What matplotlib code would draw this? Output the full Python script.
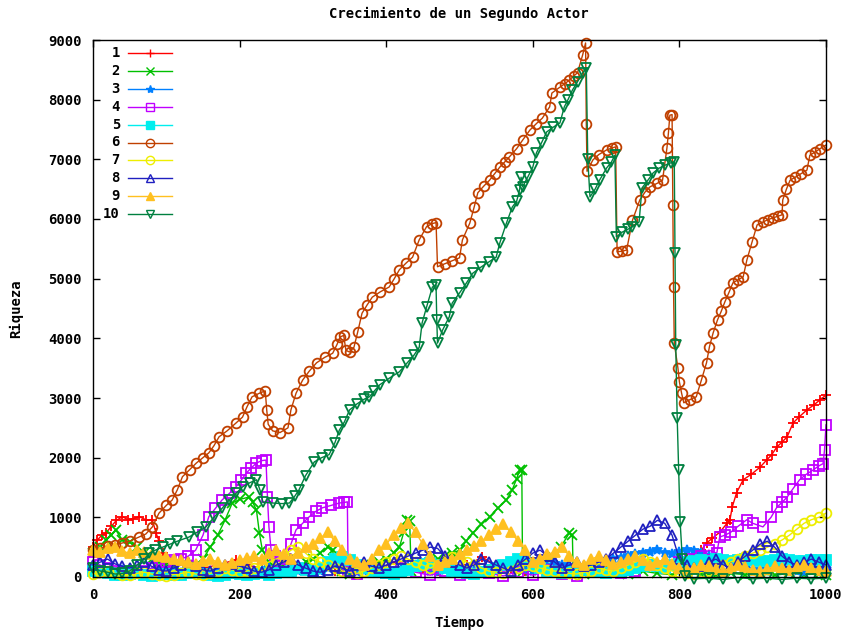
import numpy as np
import matplotlib
matplotlib.use("agg")
import matplotlib.pyplot as plt

# time grid used by the noisy low-wealth actors
t_grid = np.arange(0, 1001, 10)

# actor 1
t1 = [0, 6, 12, 18, 25, 32, 40, 48, 55, 63, 72, 81, 86, 90, 95, 100, 110, 130, 150, 170, 195,
      210, 230, 250, 270, 290, 310, 330, 350, 370, 390, 414, 430, 450, 470, 490, 510, 531, 550,
      570, 590, 610, 630, 650, 670, 690, 710, 730, 750, 770, 790, 810, 820, 830, 837, 845, 855,
      865, 869, 872, 878, 887, 898, 910, 919, 926, 933, 940, 947, 955, 963, 974, 983, 992, 1000]
v1 = [500, 620, 700, 740, 850, 950, 1010, 960, 980, 1010, 960, 950, 740, 600, 400, 300, 250, 200,
      150, 200, 290, 200, 150, 100, 150, 200, 150, 100, 150, 200, 150, 250, 200, 150, 100, 150,
      200, 330, 200, 150, 100, 150, 200, 150, 100, 150, 200, 150, 200, 250, 200, 300, 350, 450,
      570, 650, 750, 900, 960, 1170, 1410, 1630, 1720, 1840, 1960, 2050, 2180, 2260, 2350, 2580,
      2680, 2800, 2880, 2970, 3050]

# actor 2
t2 = [0, 10, 18, 25, 31, 40, 50, 60, 70, 80, 90, 100, 110, 120, 130, 140, 150, 160, 170, 180, 190,
      200, 213, 218, 223, 227, 231, 240, 250, 260, 270, 280, 290, 300, 310, 320, 327, 330, 340,
      350, 360, 370, 380, 390, 400, 410, 418, 424, 428, 432, 434, 440, 450, 460, 470, 480, 490,
      500, 509, 518, 530, 541, 552, 564, 572, 578, 582, 585, 586, 595, 605, 615, 627, 638, 650,
      654, 655, 670, 690, 710, 730, 750, 770, 790, 810, 830, 850, 870, 890, 910, 930, 950, 970,
      990, 1000]
v2 = [400, 500, 620, 700, 790, 620, 580, 500, 400, 300, 250, 200, 150, 100, 120, 200, 300, 500,
      700, 950, 1240, 1300, 1340, 1250, 1120, 740, 450, 250, 150, 200, 100, 150, 250, 300, 400,
      500, 450, 200, 100, 50, 100, 150, 200, 250, 300, 400, 500, 750, 960, 940, 100, 150, 200,
      250, 300, 350, 400, 450, 600, 740, 880, 1010, 1150, 1290, 1460, 1650, 1790, 1800, 100, 150,
      200, 250, 330, 500, 740, 700, 100, 50, 100, 80, 50, 100, 60, 40, 80, 50, 30, 60, 40, 50, 30,
      60, 40, 50, 40]

# actor 3
v3 = [150, 100, 50, 80, 120, 100, 60, 40, 80, 120, 100,
      80, 60, 120, 150, 100, 80, 120, 180, 150, 100,
      80, 50, 100, 150, 120, 80, 60, 100, 140, 120,
      100, 150, 200, 180, 120, 80, 100, 150, 120, 100,
      80, 120, 160, 200, 150, 100, 80, 120, 160, 140,
      120, 100, 80, 120, 160, 200, 180, 150, 120, 100,
      140, 180, 220, 200, 160, 120, 100, 150, 200, 250,
      300, 320, 350, 380, 400, 420, 450, 400, 380, 420,
      450, 430, 400, 350, 300, 250, 200, 180, 150, 120,
      100, 140, 180, 150, 120, 100, 80, 120, 150, 130]

# actor 4
t4 = [0, 10, 20, 30, 40, 50, 60, 70, 80, 90, 100, 110, 120, 130, 140, 150, 158, 167, 176, 186, 195,
      202, 209, 216, 223, 230, 236, 238, 240, 243, 248, 255, 262, 270, 277, 286, 295, 304, 313,
      325, 336, 343, 347, 348, 360, 380, 400, 420, 440, 460, 480, 500, 520, 540, 560, 580, 600,
      620, 640, 660, 680, 700, 720, 740, 760, 780, 800, 815, 830, 840, 851, 855, 862, 870, 880,
      892, 900, 914, 925, 933, 940, 947, 955, 964, 973, 982, 990, 996, 998, 1000]
v4 = [250, 200, 150, 100, 80, 60, 80, 100, 150, 200, 250, 280, 300, 350, 450, 700, 1010, 1150,
      1290, 1400, 1510, 1620, 1740, 1830, 1910, 1950, 1960, 1340, 840, 450, 350, 250, 300, 550,
      790, 900, 1010, 1100, 1160, 1200, 1240, 1250, 1260, 100, 50, 120, 60, 150, 80, 30, 100, 40,
      150, 60, 20, 90, 30, 120, 50, 20, 80, 150, 60, 100, 200, 150, 250, 300, 350, 450, 400, 670,
      700, 750, 850, 960, 900, 840, 1000, 1170, 1250, 1340, 1480, 1630, 1720, 1790, 1860, 1900,
      2130, 2550]

# actor 5
v5 = [100, 80, 60, 40, 30, 50, 70, 40, 20, 30, 50,
      40, 30, 60, 80, 50, 30, 20, 40, 60, 50,
      30, 50, 70, 40, 60, 80, 100, 150, 120, 80,
      150, 250, 300, 330, 280, 200, 150, 100, 80, 60,
      50, 80, 120, 180, 220, 230, 200, 150, 100, 80,
      60, 50, 80, 120, 150, 200, 250, 300, 280, 200,
      150, 100, 80, 60, 80, 100, 120, 100, 80, 60,
      80, 100, 120, 150, 180, 200, 180, 150, 200, 220,
      250, 270, 280, 260, 300, 280, 270, 290, 300, 280,
      270, 260, 280, 300, 290, 270, 260, 280, 290, 280]

# actor 6
t6 = [0, 10, 20, 30, 40, 50, 63, 72, 81, 90, 100, 108, 115, 122, 132, 141, 150, 158, 165, 172, 183,
      195, 204, 210, 217, 227, 235, 237, 239, 245, 255, 266, 270, 277, 286, 295, 305, 316, 327,
      333, 337, 342, 345, 350, 356, 361, 367, 374, 381, 392, 404, 411, 418, 427, 436, 445, 455,
      462, 468, 470, 480, 490, 500, 504, 514, 520, 525, 533, 541, 548, 555, 562, 568, 578, 586,
      596, 605, 613, 623, 626, 637, 644, 650, 656, 661, 668, 672, 673, 674, 682, 690, 701, 708,
      713, 715, 722, 728, 736, 746, 753, 760, 770, 777, 783, 785, 787, 790, 791, 792, 793, 798,
      800, 803, 806, 814, 823, 830, 837, 841, 846, 852, 857, 862, 868, 873, 880, 887, 892, 899,
      906, 914, 921, 928, 935, 940, 941, 946, 951, 958, 966, 974, 978, 985, 992, 1000]
v6 = [450, 480, 520, 540, 570, 600, 670, 720, 840, 1070, 1200, 1290, 1460, 1680, 1800, 1910, 2000,
      2080, 2200, 2350, 2450, 2580, 2680, 2850, 3020, 3080, 3120, 2800, 2560, 2450, 2420, 2500,
      2800, 3080, 3300, 3450, 3590, 3680, 3750, 3900, 4020, 4050, 3800, 3770, 3850, 4100, 4420,
      4560, 4690, 4780, 4860, 5000, 5150, 5260, 5360, 5650, 5870, 5920, 5940, 5200, 5250, 5300,
      5350, 5650, 5930, 6200, 6440, 6550, 6650, 6760, 6870, 6960, 7040, 7180, 7320, 7490, 7600,
      7690, 7880, 8110, 8210, 8270, 8330, 8400, 8450, 8750, 8950, 7600, 6800, 6990, 7080, 7160,
      7190, 7210, 5450, 5460, 5480, 5980, 6320, 6450, 6540, 6600, 6650, 7190, 7440, 7740, 7750,
      6230, 4860, 3920, 3500, 3270, 3080, 2920, 2970, 3020, 3300, 3590, 3860, 4090, 4310, 4450,
      4610, 4780, 4930, 4980, 5030, 5310, 5610, 5900, 5950, 5990, 6020, 6050, 6070, 6320, 6500,
      6650, 6700, 6760, 6820, 7070, 7120, 7180, 7240]

# actor 7
v7 = [50, 80, 100, 60, 40, 30, 60, 80, 50, 30, 20,
      40, 60, 80, 50, 30, 60, 100, 150, 120, 80,
      100, 150, 200, 250, 300, 350, 450, 500, 400, 300,
      250, 200, 150, 100, 80, 60, 100, 150, 200, 250,
      300, 350, 300, 250, 200, 150, 200, 280, 330, 300,
      250, 200, 150, 100, 80, 60, 100, 150, 200, 180,
      150, 120, 100, 80, 60, 50, 80, 100, 150, 120,
      100, 150, 200, 250, 300, 250, 200, 150, 100, 80,
      60, 50, 80, 100, 150, 200, 250, 300, 350, 400,
      450, 500, 550, 620, 700, 800, 900, 960, 1000, 1070]

# actor 8
v8 = [200, 250, 300, 220, 180, 150, 200, 250, 180, 120, 100,
      150, 200, 250, 180, 120, 100, 150, 200, 220, 180,
      150, 100, 80, 120, 200, 250, 300, 200, 150, 100,
      80, 120, 180, 150, 100, 200, 250, 180, 150, 200,
      250, 300, 350, 400, 450, 500, 480, 350, 250, 200,
      150, 200, 300, 250, 200, 150, 100, 200, 300, 400,
      450, 350, 250, 150, 200, 250, 180, 200, 250, 300,
      400, 500, 600, 700, 800, 850, 950, 900, 700, 300,
      200, 150, 180, 250, 300, 200, 150, 250, 350, 450,
      550, 600, 500, 350, 250, 200, 250, 300, 250, 200]

# actor 9
v9 = [450, 420, 480, 500, 430, 400, 450, 420, 380, 350, 330,
      300, 280, 250, 220, 260, 300, 250, 200, 230, 280,
      320, 350, 300, 400, 450, 380, 300, 400, 500, 550,
      650, 750, 600, 450, 300, 250, 200, 300, 450, 550,
      700, 820, 900, 750, 550, 350, 200, 250, 300, 380,
      450, 520, 600, 700, 800, 880, 750, 600, 450, 250,
      300, 380, 420, 500, 350, 250, 200, 300, 350, 280,
      220, 250, 300, 350, 280, 200, 250, 300, 220, 150,
      120, 150, 200, 180, 130, 100, 150, 200, 160, 120,
      100, 140, 180, 150, 120, 160, 200, 150, 120, 100]

# actor 10
t10 = [0, 10, 20, 30, 40, 50, 60, 70, 77, 85, 95, 105, 115, 131, 142, 154, 165, 176, 186, 195, 204,
       214, 223, 228, 232, 245, 258, 268, 275, 281, 290, 302, 312, 322, 330, 336, 343, 350, 360,
       370, 377, 384, 391, 404, 418, 428, 438, 445, 449, 455, 463, 468, 469, 470, 477, 486, 490,
       500, 509, 518, 530, 540, 550, 555, 564, 572, 578, 582, 584, 586, 593, 600, 605, 612, 619,
       628, 637, 643, 648, 654, 661, 668, 673, 675, 678, 685, 691, 701, 707, 712, 714, 722, 730,
       736, 745, 749, 757, 764, 772, 780, 788, 793, 794, 795, 797, 799, 801, 804, 808, 820, 840,
       860, 880, 900, 920, 940, 960, 980, 1000]
v10 = [150, 100, 80, 50, 60, 100, 200, 300, 400, 450, 500, 550, 600, 670, 750, 840, 1000, 1150,
       1290, 1400, 1510, 1580, 1630, 1450, 1250, 1240, 1230, 1240, 1350, 1460, 1700, 1930, 2000,
       2050, 2250, 2460, 2600, 2800, 2900, 2980, 3020, 3120, 3220, 3330, 3440, 3580, 3720, 3850,
       4260, 4520, 4860, 4890, 4300, 3920, 4140, 4360, 4590, 4760, 4920, 5090, 5200, 5280, 5360,
       5600, 5930, 6200, 6300, 6490, 6700, 6540, 6700, 6870, 7110, 7280, 7460, 7540, 7610, 7880,
       8000, 8160, 8300, 8450, 8530, 7000, 6370, 6500, 6650, 6860, 6950, 7070, 5700, 5780, 5830,
       5870, 5950, 6520, 6650, 6770, 6850, 6900, 6940, 6960, 5430, 3890, 2660, 1790, 920, 300, 20,
       -30, -20, -40, -10, -30, -20, -40, -20, -30, -20]

labels = ["1", "2", "3", "4", "5", "6", "7", "8", "9", "10"]
colors = ["#ff0000", "#00c000", "#0080ff", "#c000ff", "#00eeee",
          "#c04000", "#eeee00", "#2020c0", "#ffc020", "#008040"]
markers = ["+", "x", "*", "s", "s", "o", "o", "^", "^", "v"]
filled = [True, True, True, False, True, False, False, False, True, False]

series = [(t1, v1), (t2, v2), (t_grid, v3), (t4, v4), (t_grid, v5),
          (t6, v6), (t_grid, v7), (t_grid, v8), (t_grid, v9), (t10, v10)]

font = {"family": "DejaVu Sans Mono", "weight": "bold", "size": 10}

fig = plt.figure(figsize=(8.49, 6.31), dpi=100)
ax = fig.add_axes([93 / 849, 54 / 631, 733 / 849, 537 / 631])

for i, (t, v) in enumerate(series):
    c = colors[i]
    ax.plot(t, v, color=c, lw=1.0, marker=markers[i], ms=7, mew=1.3,
            mec=c, mfc=c if filled[i] else "none", clip_on=False, zorder=2 + i)

ax.set_xlim(0, 1000)
ax.set_ylim(0, 9000)
ax.set_xticks(np.arange(0, 1001, 200))
ax.set_yticks(np.arange(0, 9001, 1000))
ax.tick_params(direction="in", length=5, top=True, right=True, width=1, pad=8)
for lab in ax.get_xticklabels() + ax.get_yticklabels():
    lab.set_fontfamily(font["family"])
    lab.set_fontweight("bold")
    lab.set_fontsize(10)
for s in ax.spines.values():
    s.set_linewidth(1.0)
    s.set_zorder(20)

ax.set_xlabel("Tiempo", fontdict=font, labelpad=10)
ax.set_ylabel("Riqueza", fontdict=font, labelpad=18)
fig.text(459 / 849, 1 - 14 / 631, "Crecimiento de un Segundo Actor", ha="center", va="center",
         fontdict=font)

# legend, gnuplot style: label right-aligned, then line sample with point
for i in range(10):
    py = 53 + i * 17.9
    ya = (577 - py) / 537
    ax.text((120 - 93) / 733, ya, labels[i], transform=ax.transAxes, ha="right", va="center",
            fontdict=font, zorder=30)
    ax.plot([(128 - 93) / 733, (172 - 93) / 733], [ya, ya], transform=ax.transAxes,
            color=colors[i], lw=1.0, zorder=30)
    ax.plot([(150 - 93) / 733], [ya], transform=ax.transAxes, marker=markers[i], ms=6, mew=1.0,
            color=colors[i], mfc=colors[i] if filled[i] else "none", zorder=30)

fig.savefig("out.png", dpi=100)
